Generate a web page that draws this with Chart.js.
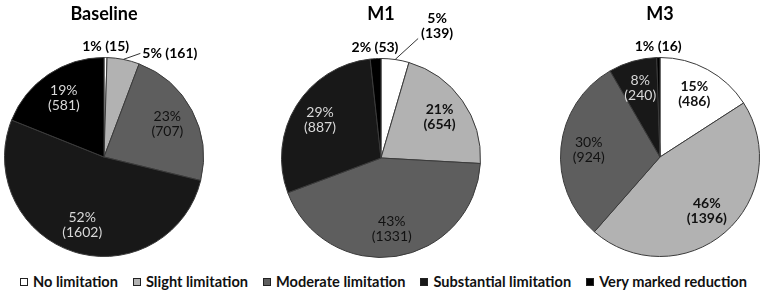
<!DOCTYPE html>
<html>
<head>
<meta charset="utf-8">
<script src="https://cdn.jsdelivr.net/npm/chart.js@4/dist/chart.umd.min.js"></script>
<style>
  html, body { margin: 0; padding: 0; background: #fff; }
  body { width: 763px; height: 297px; position: relative; overflow: hidden; font-family: Lato, 'Liberation Sans', sans-serif; }
  .pie { position: absolute; top: 0; }
  #legend { position: absolute; left: 20px; top: 273px; display: flex; font-weight: bold; font-size: 14.6px; color: #111; white-space: nowrap; }
  .item { display: flex; align-items: center; margin-right: 15px; }
  .box { width: 6px; height: 6px; border: 1px solid #222; margin-right: 5px; }
</style>
</head>
<body>
<canvas id="c0" class="pie" style="left:0px"></canvas>
<canvas id="c1" class="pie" style="left:254px"></canvas>
<canvas id="c2" class="pie" style="left:509px"></canvas>
<div id="legend"></div>
<script>
'use strict';

const categories = ['No limitation', 'Slight limitation', 'Moderate limitation', 'Substantial limitation', 'Very marked reduction'];
const colors = ['#ffffff', '#b2b2b2', '#5e5e5e', '#181818', '#000000'];

// Werte (Anzahl) und Prozent-Beschriftungen je Zeitpunkt
const baselineCounts = [15, 161, 707, 1602, 581];
const baselinePct = ['1%', '5%', '23%', '52%', '19%'];
const m1Counts = [139, 654, 1331, 887, 53];
const m1Pct = ['5%', '21%', '43%', '29%', '2%'];
const m3Counts = [486, 1396, 924, 240, 16];
const m3Pct = ['15%', '46%', '30%', '8%', '1%'];

// Textstil je Kategorie (Schrift auf hellen Segmenten dunkel, auf dunklen hell)
const textStyle = [
  { color: '#111', weight: 'bold' },
  { color: '#111', weight: 'bold' },
  { color: '#111', weight: 'normal' },
  { color: '#d8d8d8', weight: 'normal' },
  { color: '#d8d8d8', weight: 'normal' },
];

const pies = [
  { id: 'c0', title: 'Baseline', counts: baselineCounts, pct: baselinePct,
    place: ['out', 'leader', 'in', 'in', 'in'], leader: { dx: 17, dy: -6, twoLine: false },
    pad: { left: 4, right: 50, top: 57, bottom: 8 } },
  { id: 'c1', title: 'M1', counts: m1Counts, pct: m1Pct,
    place: ['leader', 'in', 'in', 'in', 'out'], leader: { dx: 23, dy: -21, twoLine: true },
    pad: { left: 27, right: 27, top: 58, bottom: 7 } },
  { id: 'c2', title: 'M3', counts: m3Counts, pct: m3Pct,
    place: ['in', 'in', 'in', 'in', 'out'], leader: null,
    pad: { left: 51, right: 3, top: 57, bottom: 8 } },
];

const labelPlugin = {
  id: 'pieLabels',
  afterDatasetsDraw(chart, args, opts) {
    const ctx = chart.ctx;
    const meta = chart.getDatasetMeta(0);
    const area = chart.chartArea;
    ctx.save();
    // Titel
    ctx.fillStyle = '#000';
    ctx.font = 'bold 18px Lato';
    ctx.textAlign = 'center';
    ctx.textBaseline = 'middle';
    ctx.fillText(opts.title, (area.left + area.right) / 2, 14);

    meta.data.forEach((arc, i) => {
      const p = arc.getProps(['x', 'y', 'startAngle', 'endAngle', 'outerRadius'], true);
      const mid = (p.startAngle + p.endAngle) / 2;
      const r = p.outerRadius;
      const pct = opts.pct[i];
      const cnt = '(' + chart.data.datasets[0].data[i] + ')';
      const place = opts.place[i];
      if (place === 'in') {
        const st = textStyle[i];
        const rr = r * 0.72;
        const cx = p.x + Math.cos(mid) * rr;
        const cy = p.y + Math.sin(mid) * rr;
        ctx.fillStyle = st.color;
        ctx.font = st.weight + ' 14px Lato';
        ctx.textAlign = 'center';
        ctx.fillText(pct, cx, cy - 7.5);
        ctx.fillText(cnt, cx, cy + 7.5);
      } else if (place === 'out') {
        const cx = p.x + Math.cos(mid) * (r + 11);
        const cy = p.y + Math.sin(mid) * (r + 11);
        ctx.fillStyle = '#000';
        ctx.font = 'bold 14px Lato';
        ctx.textAlign = 'center';
        ctx.fillText(pct + ' ' + cnt, cx, cy);
      } else {
        const ex = p.x + Math.cos(mid) * r;
        const ey = p.y + Math.sin(mid) * r;
        const lx = ex + opts.leader.dx;
        const ly = ey + opts.leader.dy;
        ctx.strokeStyle = '#333';
        ctx.lineWidth = 1;
        ctx.beginPath();
        ctx.moveTo(ex, ey);
        ctx.lineTo(lx, ly);
        ctx.stroke();
        ctx.fillStyle = '#000';
        ctx.font = 'bold 14px Lato';
        if (opts.leader.twoLine) {
          ctx.textAlign = 'center';
          ctx.fillText(pct, lx + 19, ly - 20);
          ctx.fillText(cnt, lx + 19, ly - 5);
        } else {
          ctx.textAlign = 'left';
          ctx.fillText(pct + ' ' + cnt, lx + 2, ly);
        }
      }
    });
    ctx.restore();
  },
};

pies.forEach(cfg => {
  const canvas = document.getElementById(cfg.id);
  canvas.width = 254;
  canvas.height = 265;
  new Chart(canvas, {
    type: 'pie',
    data: {
      labels: categories,
      datasets: [{
        data: cfg.counts,
        backgroundColor: colors,
        borderColor: '#3a3a3a',
        borderWidth: 1,
      }],
    },
    options: {
      responsive: false,
      animation: false,
      layout: { padding: cfg.pad },
      plugins: {
        legend: { display: false },
        tooltip: { enabled: false },
        title: { display: false },
        pieLabels: { title: cfg.title, pct: cfg.pct, place: cfg.place, leader: cfg.leader },
      },
    },
    plugins: [labelPlugin],
  });
});

// Legende
const legend = document.getElementById('legend');
categories.forEach((name, i) => {
  const item = document.createElement('div');
  item.className = 'item';
  const box = document.createElement('span');
  box.className = 'box';
  box.style.background = colors[i];
  const text = document.createElement('span');
  text.textContent = name;
  item.appendChild(box);
  item.appendChild(text);
  legend.appendChild(item);
});
</script>
</body>
</html>
